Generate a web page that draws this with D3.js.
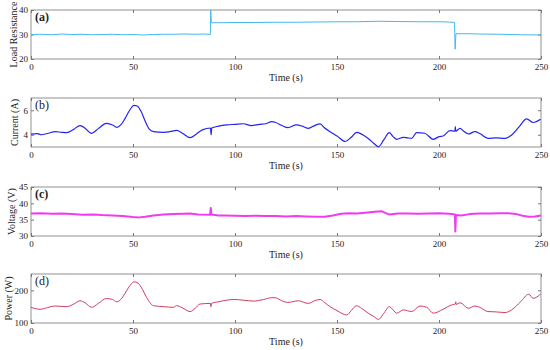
<!DOCTYPE html>
<html>
<head>
<meta charset="utf-8">
<script src="https://cdn.jsdelivr.net/npm/d3@7"></script>
<style>
  body { margin: 0; background: #fff; }
  text { font-family: "Liberation Serif", "Times New Roman", serif; fill: #222; }
</style>
</head>
<body>
<div class="panels"></div>
<script>
// ---- data ----
var xTicks = [0, 50, 100, 150, 200, 250];

var timeA = [0, 5, 10, 15, 20, 25, 30, 35, 40, 45, 50, 55, 60, 65, 70, 75, 80, 85, 87.9, 88.1, 88.4, 92, 100, 110, 120, 130, 140, 150, 160, 170, 180, 190, 200, 205, 207.6, 207.9, 208.3, 215, 220, 230, 240, 250];
var resistance = [30.0, 30.1, 29.9, 30.2, 30.0, 30.1, 29.9, 30.0, 30.1, 29.9, 30.0, 29.8, 30.0, 30.1, 30.1, 30.2, 30.1, 30.2, 30.0, 40, 34.8, 34.8, 34.9, 34.9, 35.0, 35.0, 35.1, 35.2, 35.2, 35.4, 35.3, 35.2, 35.2, 35.1, 34.9, 24.0, 30.3, 30.3, 30.2, 30.1, 29.9, 29.8];

var timeB = [0, 3, 5, 8, 12, 15, 17.5, 21, 24, 26, 29.7, 33, 37, 40, 42, 44, 46, 48, 50.5, 52, 54, 56, 58, 60, 65, 68, 71.4, 74, 78, 81, 84, 88, 88.3, 88.6, 92, 96, 100, 104, 108, 112, 115, 118, 120, 123, 126, 130, 133, 136, 139, 141.7, 144, 146.6, 150, 154, 157, 159.6, 162, 165.3, 168, 170.3, 173, 175.6, 177.5, 179.3, 182.5, 184.5, 186.6, 189, 193, 197.2, 200, 202, 205.4, 207.8, 208, 208.2, 210.3, 212, 214.4, 217.6, 220, 224, 228, 232.4, 235.6, 239, 243, 246.2, 249.8];
var current = [4.05, 4.1, 4.0, 4.1, 4.25, 4.2, 4.17, 4.45, 4.75, 4.6, 4.12, 4.5, 4.93, 4.8, 4.6, 4.8, 5.3, 5.9, 6.4, 6.35, 5.9, 5.1, 4.45, 4.25, 4.2, 4.25, 4.35, 4.15, 3.76, 4.05, 4.4, 4.55, 4.0, 4.55, 4.7, 4.8, 4.85, 4.9, 4.75, 4.85, 4.9, 5.07, 5.0, 4.75, 4.58, 4.8, 4.7, 4.52, 4.75, 4.88, 4.55, 4.25, 3.9, 3.45, 3.8, 4.2, 4.05, 3.7, 3.3, 3.03, 3.6, 4.17, 3.85, 3.63, 3.79, 3.75, 3.71, 4.17, 4.12, 3.63, 3.85, 3.9, 4.33, 4.3, 4.66, 4.3, 4.52, 4.3, 4.06, 4.25, 4.1, 3.71, 3.75, 3.71, 3.98, 4.6, 5.29, 5.0, 5.26];

var timeC = [0, 5, 10, 15, 20, 25, 30, 35, 40, 45, 50, 53, 56, 60, 65, 70, 75, 78, 82, 87.8, 88.1, 88.5, 92, 95, 100, 105, 110, 115, 120, 125, 130, 135, 140, 144, 148, 152, 156, 160, 165, 170, 172, 175.4, 180, 185, 190, 195, 200, 205, 207.8, 208, 208.3, 211, 215, 220, 225, 230, 234, 238, 241, 244, 247, 250];
var voltage = [36.9, 37.0, 36.8, 36.9, 36.7, 36.5, 36.6, 36.4, 36.3, 36.1, 35.8, 35.7, 35.9, 36.3, 36.6, 36.7, 36.8, 36.9, 36.6, 36.5, 38.6, 36.6, 36.3, 36.3, 36.2, 36.1, 36.2, 36.1, 36.1, 36.0, 36.1, 36.0, 35.9, 35.9, 36.3, 36.8, 37.0, 36.9, 37.2, 37.5, 37.55, 36.6, 36.9, 36.9, 36.8, 36.9, 37.0, 36.8, 36.6, 31.4, 36.4, 36.3, 36.7, 36.9, 36.9, 37.0, 37.0, 36.7, 36.2, 35.9, 36.0, 36.3];

var timeD = [0, 4.4, 8, 11.8, 17.5, 21, 24, 26.5, 29.7, 33, 37, 40, 42, 44, 46, 48, 50.5, 52, 54, 56.7, 60, 65, 69.8, 71.4, 74, 78, 80.5, 82.8, 88, 88.2, 88.5, 92, 96, 99.2, 104, 109, 114, 118, 120, 123, 126, 131, 135.9, 139, 141.7, 144, 146.6, 150, 154.8, 157, 159.6, 162, 165.3, 168, 170.3, 173, 175.6, 177.5, 179.3, 182.5, 186.6, 190.7, 194, 197.2, 202, 206, 208, 208.2, 208.4, 210.3, 214.4, 217.6, 220, 224, 228, 232.4, 235.6, 240, 244, 246.2, 249.8];
var power = [148, 142, 147, 152, 150, 158, 168, 162, 148, 160, 175, 172, 165, 172, 190, 210, 226, 224, 210, 178, 153, 150, 148, 153, 147, 135, 145, 158, 160, 150, 160, 165, 170, 172, 170, 167, 172, 177.5, 177, 168, 163, 168, 160, 168, 172, 162, 150, 138, 124.5, 138, 153, 145, 130, 120, 111, 130, 150, 140, 130, 140, 135, 152, 148, 130, 142, 155, 158, 165, 157, 162, 145, 152, 148, 135, 134, 132, 140, 165, 188, 175.6, 189];

// ---- layout ----
var svgWidth = 550;
var svgHeight = 350;
var left = 31, right = 541, plotH = 49;

var svg = d3.select(".panels")
  .append("svg")
  .attr("width", svgWidth)
  .attr("height", svgHeight);

var x = d3.scaleLinear().domain([0, 250]).range([left, right]);

// ylabX = baseline position of the rotated title
var panels = [
  { top: 10, t: timeA, v: resistance, domain: [20, 40], ticks: [20, 30, 40], color: "#45b8ec", width: 1, curve: d3.curveLinear, label: "(a)", bold: true, ylab: "Load Resistance", ylabX: 17 },
  { top: 98, t: timeB, v: current, domain: [3, 7], ticks: [4, 6], color: "#2424f0", width: 1.2, curve: d3.curveMonotoneX, label: "(b)", bold: false, ylab: "Current (A)", ylabX: 18 },
  { top: 187, t: timeC, v: voltage, domain: [30, 45], ticks: [30, 35, 40, 45], color: "#f03cf0", width: 2, curve: d3.curveLinear, label: "(c)", bold: true, ylab: "Voltage (V)", ylabX: 15 },
  { top: 274, t: timeD, v: power, domain: [100, 250], ticks: [100, 200], color: "#d23c62", width: 1, curve: d3.curveMonotoneX, label: "(d)", bold: false, ylab: "Power (W)", ylabX: 12 }
];

panels.forEach(function (p) {
  var bottom = p.top + plotH;
  var y = d3.scaleLinear().domain(p.domain).range([bottom, p.top]);
  var g = svg.append("g");

  // box
  g.append("rect")
    .attr("x", left).attr("y", p.top)
    .attr("width", right - left).attr("height", plotH)
    .attr("fill", "none").attr("stroke", "#777").attr("stroke-width", 0.8);

  // axes with inward ticks (labels only on bottom / left)
  var xb = g.append("g")
    .attr("transform", "translate(0," + bottom + ")")
    .call(d3.axisBottom(x).tickValues(xTicks).tickSizeInner(-3).tickSizeOuter(0).tickPadding(5));
  var xt = g.append("g")
    .attr("transform", "translate(0," + p.top + ")")
    .call(d3.axisTop(x).tickValues(xTicks).tickSizeInner(-3).tickSizeOuter(0).tickFormat(""));
  var yl = g.append("g")
    .attr("transform", "translate(" + left + ",0)")
    .call(d3.axisLeft(y).tickValues(p.ticks).tickFormat(d3.format("d")).tickSizeInner(-3).tickSizeOuter(0).tickPadding(3));
  var yr = g.append("g")
    .attr("transform", "translate(" + right + ",0)")
    .call(d3.axisRight(y).tickValues(p.ticks).tickSizeInner(-3).tickSizeOuter(0).tickFormat(""));

  [xb, xt, yl, yr].forEach(function (a) {
    a.select(".domain").remove();
    a.selectAll("line").attr("stroke", "#777");
    a.selectAll("text").style("font-family", "Liberation Serif").style("font-size", "9px").attr("fill", "#222");
  });

  // data line
  var pts = p.t.map(function (t, i) { return [t, p.v[i]]; });
  g.append("path")
    .datum(pts)
    .attr("fill", "none")
    .attr("stroke", p.color)
    .attr("stroke-width", p.width)
    .attr("stroke-linejoin", "round")
    .attr("d", d3.line().curve(p.curve).x(function (d) { return x(d[0]); }).y(function (d) { return y(d[1]); }));

  // panel tag
  g.append("text")
    .attr("x", left + 4).attr("y", p.top + 11)
    .style("font-size", "12px")
    .style("font-weight", p.bold ? "bold" : "normal")
    .text(p.label);

  // axis titles
  g.append("text")
    .attr("x", (left + right) / 2).attr("y", bottom + 22)
    .attr("text-anchor", "middle")
    .style("font-size", "10px")
    .text("Time (s)");

  g.append("text")
    .attr("transform", "translate(" + p.ylabX + "," + (p.top + plotH / 2) + ") rotate(-90)")
    .attr("text-anchor", "middle")
    .style("font-size", "10px")
    .text(p.ylab);
});
</script>
</body>
</html>
